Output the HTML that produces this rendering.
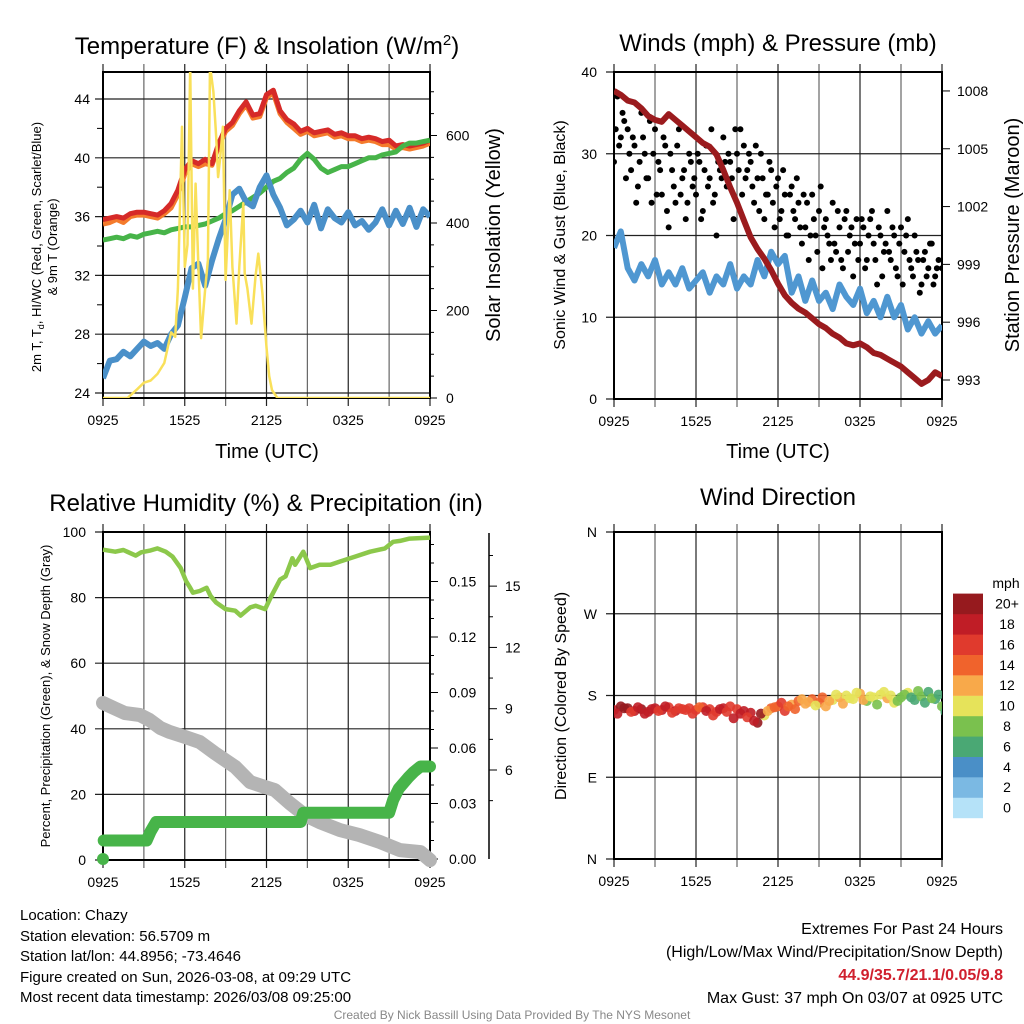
<!DOCTYPE html>
<html><head><meta charset="utf-8">
<style>
html,body{margin:0;padding:0;background:#fff;}
svg{display:block;font-family:"Liberation Sans",Arial,sans-serif;}
</style></head>
<body>
<svg id="chart" width="1024" height="1024" viewBox="0 0 1024 1024" xmlns="http://www.w3.org/2000/svg">
<defs>
<clipPath id="c1"><rect x="103" y="72" width="327" height="326"/></clipPath>
<clipPath id="c2"><rect x="614" y="72" width="328" height="327"/></clipPath>
<clipPath id="c3"><rect x="103" y="532" width="327" height="328"/></clipPath>
<clipPath id="c4"><rect x="614" y="532" width="328" height="327"/></clipPath>
</defs>
<text x="267" y="54" font-size="24" text-anchor="middle">Temperature (F) &amp; Insolation (W/m<tspan dy="-9" font-size="15">2</tspan><tspan dy="9">)</tspan></text>
<text x="778" y="51" font-size="24" text-anchor="middle">Winds (mph) &amp; Pressure (mb)</text>
<text x="266" y="511" font-size="24" text-anchor="middle">Relative Humidity (%) &amp; Precipitation (in)</text>
<text x="778" y="505" font-size="24" text-anchor="middle">Wind Direction</text>
<text x="267" y="458" font-size="20" text-anchor="middle">Time (UTC)</text>
<text x="778" y="458" font-size="20" text-anchor="middle">Time (UTC)</text>
<text transform="translate(41,247) rotate(-90)" font-size="13" text-anchor="middle">2m T, T<tspan dy="3" font-size="9">d</tspan><tspan dy="-3">, HI/WC (Red, Green, Scarlet/Blue)</tspan></text>
<text transform="translate(57,247) rotate(-90)" font-size="13" text-anchor="middle">&amp; 9m T (Orange)</text>
<text transform="translate(500,235) rotate(-90)" font-size="20" text-anchor="middle">Solar Insolation (Yellow)</text>
<text transform="translate(565,235) rotate(-90)" font-size="16" text-anchor="middle">Sonic Wind &amp; Gust (Blue, Black)</text>
<text transform="translate(1019,235) rotate(-90)" font-size="20" text-anchor="middle">Station Pressure (Maroon)</text>
<text transform="translate(50,696) rotate(-90)" font-size="13" text-anchor="middle">Percent, Precipitation (Green), &amp; Snow Depth (Gray)</text>
<text transform="translate(566,696) rotate(-90)" font-size="16" text-anchor="middle">Direction (Colored By Speed)</text>
<g font-size="15">
<text x="20" y="920">Location: Chazy</text>
<text x="20" y="941">Station elevation: 56.5709 m</text>
<text x="20" y="961">Station lat/lon: 44.8956; -73.4646</text>
<text x="20" y="982">Figure created on Sun, 2026-03-08, at 09:29 UTC</text>
<text x="20" y="1002">Most recent data timestamp: 2026/03/08 09:25:00</text>
</g>
<g font-size="16" text-anchor="end">
<text x="1003" y="934">Extremes For Past 24 Hours</text>
<text x="1003" y="957">(High/Low/Max Wind/Precipitation/Snow Depth)</text>
<text x="1003" y="980" fill="#d0202e" font-weight="bold">44.9/35.7/21.1/0.05/9.8</text>
<text x="1003" y="1003">Max Gust: 37 mph On 03/07 at 0925 UTC</text>
</g>
<text x="512" y="1019" font-size="12" fill="#888" text-anchor="middle">Created By Nick Bassill Using Data Provided By The NYS Mesonet</text>
</svg>
<script>
// ---------- data ----------
const hours = [0,0.5,1,1.5,2,2.5,3,3.5,4,4.5,5,5.5,6,6.5,7,7.5,8,8.5,9,9.5,10,10.5,11,11.5,12,12.5,13,13.5,14,14.5,15,15.5,16,16.5,17,17.5,18,18.5,19,19.5,20,20.5,21,21.5,22,22.5,23,23.5,24];
const timeLabels = ["0925","1525","2125","0325","0925"];
const tempRed = [35.8,35.9,36.0,35.9,36.2,36.3,36.3,36.2,36.1,36.4,36.9,37.8,39.2,39.8,39.6,39.9,39.6,41.0,42.0,42.4,43.2,43.8,42.9,43.0,44.3,44.6,43.2,42.6,42.3,41.8,42.0,41.7,41.8,41.9,41.6,41.7,41.5,41.5,41.3,41.4,41.3,41.1,41.2,40.8,40.9,40.8,40.9,41.0,41.2];
const temp9m = [35.5,35.6,35.8,35.6,36.0,36.1,36.1,36.0,35.9,36.2,36.6,37.5,38.9,39.6,39.4,39.6,39.5,40.8,41.8,42.2,43.0,43.6,42.7,42.8,44.1,44.4,43.0,42.4,42.0,41.6,41.8,41.5,41.6,41.7,41.4,41.5,41.3,41.3,41.1,41.2,41.1,40.9,40.9,40.6,40.7,40.6,40.7,40.8,41.0];
const dewpoint = [34.4,34.5,34.6,34.5,34.7,34.6,34.8,34.9,35.0,34.9,35.1,35.2,35.3,35.3,35.4,35.5,35.7,35.9,36.2,36.4,36.7,37.0,37.3,37.6,38.0,38.4,38.6,39.0,39.3,39.9,40.3,39.9,39.3,39.0,39.2,39.4,39.4,39.6,39.8,40.0,40.0,40.2,40.3,40.4,40.8,41.0,41.0,41.1,41.2];
const windChill = [25.0,26.2,26.3,26.8,26.5,27.0,27.5,27.2,27.4,27.0,28.0,28.6,30.5,32.5,32.8,31.3,33.0,34.5,35.8,37.5,37.9,37.0,36.7,38.0,38.8,37.5,36.6,35.4,35.8,36.4,35.6,36.8,35.2,36.5,35.9,35.6,36.3,35.4,35.7,35.1,35.6,36.5,35.4,36.4,35.5,36.6,35.3,36.5,36.0];
const solarHours = [0,1.8,2.5,3,3.5,4,4.5,5,5.3,5.5,5.8,6.0,6.2,6.4,6.6,6.8,7.0,7.2,7.5,7.7,7.85,8.1,8.3,8.45,8.6,8.8,9.0,9.3,9.5,9.8,10.0,10.3,10.4,10.6,10.9,11.2,11.4,11.7,12.0,12.2,12.4,12.8,24];
const solarValues = [0,0,20,35,40,55,80,150,140,250,620,300,350,760,250,490,300,137,250,315,760,700,600,505,550,620,270,475,300,170,300,445,285,250,170,280,330,240,116,50,18,0,0];
const solarTicks = [0,200,400,600];
const tempTicks = [24,28,32,36,40,44];
const windSpeed = [18.5,20.5,16,14.5,16.5,15,17,14,15.5,14,16,13.5,14.5,15.5,13,15,14,16.5,13.5,15,14,17,15,18,16.5,17.5,13,15,12,14.5,12,13,11,14,12.5,11.5,13.5,10.5,12,10,12.5,10,11.5,8.5,10,8,9.5,8,9];
const gustValues = [29,37,32,34,33,28,31,26, 35,30,27,24,33,29,25,31, 21,28,24,33,27,22,30,26, 25,29,23,31,27,24,20,28, 32,26,29,22,30,33,31,28, 29,24,27,30,22,25,28,21, 27,23,25,20,26,22,24,19, 21,17,25,20,23,16,22,19, 24,18,21,16,23,20,15,22, 19,21,17,22,19,14,20,18, 23,17,20,15,21,18,22,16, 20,17,14,18,16,19,15,17, 16];
const gustValues2 = [33,31,35,27,30,32,24,29, 32,27,34,30,25,28,32,23, 30,26,31,25,28,24,29,27, 30,22,28,26,33,25,29,27, 29,30,27,33,28,25,27,30, 26,31,23,27,25,29,24,26, 22,28,20,25,23,27,21,25, 24,20,22,18,26,21,20,17, 19,23,17,22,18,21,19,17, 22,16,20,23,17,21,15,19, 18,21,16,19,14,20,17,15, 18,13,17,15,19,14,16];
const pressure = [1008,1007.8,1007.5,1007.4,1007.1,1006.7,1006.5,1006.4,1006.8,1006.5,1006.2,1005.9,1005.6,1005.3,1005.1,1004.7,1003.9,1003.0,1002.2,1001.3,1000.4,999.8,999.3,998.7,998.0,997.4,997.0,996.7,996.5,996.2,995.9,995.7,995.4,995.2,994.9,994.8,994.9,994.7,994.4,994.3,994.1,993.9,993.7,993.4,993.1,992.8,993.0,993.4,993.2];
const windTicks = [0,10,20,30,40];
const pressureTicks = [993,996,999,1002,1005,1008];
const rhHours = [0,0.9,1.5,2.4,2.8,3.5,4.0,4.6,5.1,5.7,6.1,6.4,6.6,7.1,7.6,7.9,8.3,9.0,9.7,10.1,10.8,11.2,11.9,12.3,13.0,13.4,13.9,14.1,14.7,15.2,15.9,16.7,17.4,18.5,19.6,20.7,21.3,21.8,22.5,24];
const rhValues = [94.6,94.0,94.5,92.8,93.8,94.4,95,94,92.5,89,85,83,81.5,82,83,80.5,78.5,76.5,76,74.5,77,77.5,76.5,80,85.5,86.5,92,90,94,89,90,90,91,92.5,94,95,97,97.3,98,98.3];
const precipHours = [0,0.05,3.2,3.5,3.9,14.5,14.7,21.0,21.3,21.7,22.4,22.8,23.3,24];
const precipValues = [0,0.01,0.01,0.015,0.02,0.02,0.025,0.025,0.032,0.038,0.044,0.047,0.05,0.05];
const snowHours = [0,0.9,1.6,2.7,3.4,4.2,4.9,6.0,7.1,8.2,9.7,10.8,11.9,12.6,13.7,14.8,15.9,17.4,18.8,20.3,21.8,23.3,24];
const snowValues = [9.28,9.0,8.79,8.69,8.45,8.06,7.86,7.62,7.37,6.83,6.15,5.41,5.17,5.02,4.38,3.80,3.45,3.06,2.82,2.48,2.08,1.98,1.59];
const rhTicks = [0,20,40,60,80,100];
const precipTicks = ["0.00","0.03","0.06","0.09","0.12","0.15"];
const snowTicks = [6,9,12,15];
const dirValues = [164,168,166,163,165,162,166,164,167,163,165,166,164,167,165,162,166,168,165,163,161,150,158,166,168,163,170,174,171,176,172,168,175,178,180,176,182,174,178,181,177,172,178,183,175,179,184,176,168];
const dirSpeed = [19,21,20,19,20,18,18,19,17,18,16,17,16,17,16,17,18,16,17,18,19,20,10,15,15,16,13,14,12,15,14,12,11,12,10,11,12,9,11,10,12,11,9,10,6,8,7,6,8];
const dirValues2 = [160,166,162,167,160,165,163,168,161,166,164,160,167,163,158,165,162,155,160,156,152,160,163,167,172,168,165,176,173,169,178,174,181,171,177,183,175,179,170,184,180,174,181,178,185,172,177,181,162];
const dirSpeed2 = [18,20,17,19,18,19,17,18,16,17,17,16,15,18,17,19,17,18,19,17,18,21,13,14,16,14,15,12,13,11,14,13,10,12,11,10,12,10,9,10,11,9,8,7,9,7,8,7,7];
const dirTicks = ["N","E","S","W","N"];
const cbLabels = ["0","2","4","6","8","10","12","14","16","18","20+"];
const cbColors = ["#b5e2f8","#7bb9e3","#4a8fc7","#4aa874","#7ac14e","#e6e35a","#f8a94a","#f0632c","#e03a2d","#c01d26","#961a1e"];

// ---------- helpers ----------
const NS = "http://www.w3.org/2000/svg";
const svg = document.getElementById("chart");
function mk(tag, attrs, parent){
  const e = document.createElementNS(NS, tag);
  for (const k in attrs) e.setAttribute(k, attrs[k]);
  (parent || svg).appendChild(e);
  return e;
}
function txt(s, attrs, parent){ const e = mk("text", attrs, parent); e.textContent = s; return e; }
function pathFrom(xs, ys){ return xs.map((x,i)=>(i?"L":"M")+x.toFixed(1)+","+ys[i].toFixed(1)).join(""); }

const x1 = h => 103 + h*327/24;
const yT = t => 393 - (t-24)*14.7;
const yS = s => 398 - s*0.4375;
const x2 = h => 614 + h*328/24;
const yW = w => 399 - w*8.175;
const yP = p => 380 - (p-993)*19.27;
const x3 = h => 103 + h*327/24;
const yR = r => 860 - r*3.28;
const yPr = p => 859 - p*1850;
const ySn = s => 770 - (s-6)*20.43;
const x4 = h => 614 + h*328/24;
const yD = d => 859 - d*327/360;
function speedColor(s){ let i = Math.min(10, Math.max(0, Math.floor(s/2))); return cbColors[i]; }

function frame(name, xL, xR, yTop, yBot, xf, hLines){
  const g = mk("g", {});
  
  
  for (let h=0; h<=24; h+=3){
    const x = xf(h);
    const l = mk("line", {x1:x, y1:yTop-8, x2:x, y2:yBot+8, stroke: (h%6===0)?"#222":"#666", "stroke-width":1.2}, g);
    
    
  }
  hLines.forEach(y=>{
    const l = mk("line", {x1:xL-8, y1:y, x2:xR, y2:y, stroke:"#222", "stroke-width":1.2}, g);
    
    
  });
  const b = mk("rect", {x:xL, y:yTop, width:xR-xL, height:yBot-yTop, fill:"none", stroke:"#000", "stroke-width":2}, g);
  
  
  for (let i=0;i<timeLabels.length;i++){
    const t = txt(timeLabels[i], {x:xf(i*6), y:yBot+27, "font-size":14, "text-anchor":"middle"});
    
    
  }
}

// ---------- panel 1 ----------
frame("temp", 103, 430, 72, 398, x1, tempTicks.map(yT));
tempTicks.forEach(v=>{
  const t = txt(String(v), {x:90, y:yT(v)+5, "font-size":14, "text-anchor":"end"});
  
  
});
for (let v=26; v<=44; v+=4){ const m = mk("line",{x1:97,y1:yT(v),x2:103,y2:yT(v),stroke:"#000"});   }
solarTicks.forEach(v=>{
  const m = mk("line",{x1:430,y1:yS(v),x2:437,y2:yS(v),stroke:"#000"});
  
  
  const t = txt(String(v), {x:446, y:yS(v)+5, "font-size":14});
  
  
});
for (let v=50; v<=700; v+=50){ if (v%200){ const m = mk("line",{x1:430,y1:yS(v),x2:434,y2:yS(v),stroke:"#000"});   } }
const g1 = mk("g", {"clip-path":"url(#c1)"});


const xs1 = hours.map(x1);
let p;
p = mk("path",{d:pathFrom(xs1, temp9m.map(yT)),fill:"none",stroke:"#f47b2c","stroke-width":5,"stroke-linejoin":"round"},g1);


p = mk("path",{d:pathFrom(xs1, tempRed.map(yT)),fill:"none",stroke:"#d62a28","stroke-width":5,"stroke-linejoin":"round"},g1);


p = mk("path",{d:pathFrom(xs1, dewpoint.map(yT)),fill:"none",stroke:"#47b449","stroke-width":5,"stroke-linejoin":"round"},g1);


p = mk("path",{d:pathFrom(xs1, windChill.map(yT)),fill:"none",stroke:"#4a90c9","stroke-width":6,"stroke-linejoin":"round"},g1);


p = mk("path",{d:pathFrom(solarHours.map(x1), solarValues.map(yS)),fill:"none",stroke:"#f9e05a","stroke-width":2.5,"stroke-linejoin":"round"},g1);



// ---------- panel 2 ----------
frame("winds", 614, 942, 72, 399, x2, windTicks.map(yW));
windTicks.forEach(v=>{
  const t = txt(String(v), {x:597, y:yW(v)+5, "font-size":14, "text-anchor":"end"});
  
  
});
pressureTicks.forEach(v=>{
  const m = mk("line",{x1:942,y1:yP(v),x2:950,y2:yP(v),stroke:"#000"});
  
  
  const t = txt(String(v), {x:957, y:yP(v)+5, "font-size":14});
  
  
});
const g2 = mk("g", {"clip-path":"url(#c2)"});


p = mk("path",{d:pathFrom(hours.map(x2), windSpeed.map(yW)),fill:"none",stroke:"#4f97d1","stroke-width":6,"stroke-linejoin":"round"},g2);


gustValues.forEach((v,i)=>{
  const c = mk("circle",{cx:x2(i*0.25),cy:yW(v),r:3,fill:"#000"},g2);
  
  
});
gustValues2.forEach((v,i)=>{
  const c = mk("circle",{cx:x2(i*0.25+0.125),cy:yW(v),r:3,fill:"#000"},g2);
  
  
});
p = mk("path",{d:pathFrom(hours.map(x2), pressure.map(yP)),fill:"none",stroke:"#9b1b1e","stroke-width":6,"stroke-linejoin":"round"},g2);



// ---------- panel 3 ----------
frame("humidity", 103, 430, 532, 860, x3, rhTicks.map(yR));
rhTicks.forEach(v=>{
  const t = txt(String(v), {x:86, y:yR(v)+5, "font-size":14, "text-anchor":"end"});
  
  
});
precipTicks.forEach(v=>{
  const y = yPr(parseFloat(v));
  const m = mk("line",{x1:430,y1:y,x2:438,y2:y,stroke:"#000"});
  
  
  const t = txt(v, {x:449, y:y+5, "font-size":14});
  
  
});
for (let v=0.01; v<0.175; v+=0.01){ const y=yPr(v); const m = mk("line",{x1:430,y1:y,x2:434,y2:y,stroke:"#000"});   }
const sa = mk("line",{x1:489,y1:533,x2:489,y2:859,stroke:"#000","stroke-width":1.5});


snowTicks.forEach(v=>{
  const m = mk("line",{x1:489,y1:ySn(v),x2:497,y2:ySn(v),stroke:"#000"});
  
  
  const t = txt(String(v), {x:505, y:ySn(v)+5, "font-size":14});
  
  
});
for (let v=4.5; v<=16.5; v+=1.5){ if (v%3){ const m = mk("line",{x1:489,y1:ySn(v),x2:493,y2:ySn(v),stroke:"#000"});   } }
const g3 = mk("g", {});


p = mk("path",{d:pathFrom(snowHours.map(x3), snowValues.map(ySn)),fill:"none",stroke:"#b4b4b4","stroke-width":14,"stroke-linejoin":"round","stroke-linecap":"round"},g3);


const psx = [], psy = [];
precipHours.forEach((h,i)=>{ if(i>0){ psx.push(x3(h)); psy.push(yPr(precipValues[i])); } });
p = mk("path",{d:pathFrom(psx, psy),fill:"none",stroke:"#47b449","stroke-width":12,"stroke-linejoin":"round","stroke-linecap":"round"},g3);


const c0 = mk("circle",{cx:x3(precipHours[0]),cy:yPr(precipValues[0]),r:6,fill:"#47b449"},g3);


p = mk("path",{d:pathFrom(rhHours.map(x3), rhValues.map(yR)),fill:"none",stroke:"#8cc84b","stroke-width":4.5,"stroke-linejoin":"round"},g3);



// ---------- panel 4 ----------
frame("direction", 614, 942, 532, 859, x4, [0,90,180,270,360].map(yD));
dirTicks.forEach((s,i)=>{
  const t = txt(s, {x:597, y:yD(i*90)+5, "font-size":14, "text-anchor":"end"});
  
  
});
const g4 = mk("g", {"clip-path":"url(#c4)"});


dirValues.forEach((d,i)=>{
  const c = mk("circle",{cx:x4(hours[i]),cy:yD(d),r:5,fill:speedColor(dirSpeed[i]),"fill-opacity":0.9},g4);
  
  
});
dirValues2.forEach((d,i)=>{
  const c = mk("circle",{cx:x4(hours[i]+0.25),cy:yD(d),r:5,fill:speedColor(dirSpeed2[i]),"fill-opacity":0.9},g4);
  
  
});
const cb = mk("g", {});


const mt = txt("mph", {x:1006, y:588, "font-size":14, "text-anchor":"middle"}, cb);


cbColors.forEach((c,i)=>{
  const y = 818 - (i+1)*20.4;
  const r = mk("rect",{x:953,y:y,width:30,height:20.6,fill:c},cb);
  
  
  const t = txt(cbLabels[i], {x:1007, y:y+15, "font-size":14, "text-anchor":"middle"}, cb);
  
  
});
</script>
</body></html>
